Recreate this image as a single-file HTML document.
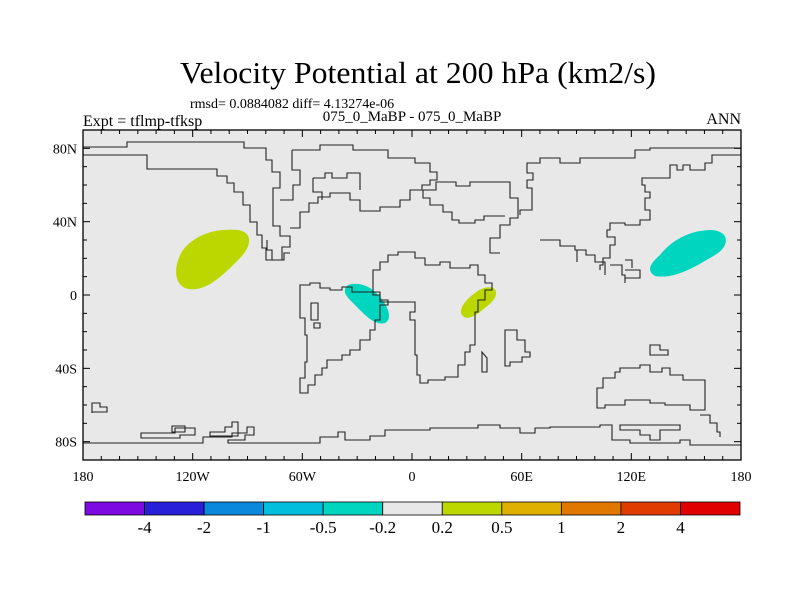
<!DOCTYPE html>
<html><head><meta charset="utf-8"><style>
body{margin:0;background:#fff;}
svg text{font-family:"Liberation Serif",serif;fill:#000;}
</style></head><body>
<svg id="chart" width="800" height="600" viewBox="0 0 800 600" xmlns="http://www.w3.org/2000/svg">
<rect width="800" height="600" fill="#fff"/>
<text x="418" y="83" font-size="31" text-anchor="middle" textLength="476" lengthAdjust="spacingAndGlyphs">Velocity Potential at 200 hPa (km2/s)</text>
<text x="190" y="108" font-size="14">rmsd= 0.0884082 diff= 4.13274e-06</text>
<text x="83" y="126" font-size="16">Expt = tflmp-tfksp</text>
<text x="412" y="121" font-size="15" text-anchor="middle">075_0_MaBP - 075_0_MaBP</text>
<text x="741" y="124" font-size="16" text-anchor="end">ANN</text>
<g id="plot">
<rect x="83" y="130" width="658" height="330" fill="#e8e8e8"/>
<g>
<path d="M185,288 C172,282 175,262 183,250 C195,235 215,228 238,230 C255,233 250,248 240,258 C225,273 205,295 185,288 Z" fill="#bcd700"/>
<path d="M655,276 C645,270 652,262 660,255 C672,240 690,230 712,230 C732,232 728,248 715,255 C698,265 675,280 655,276 Z" fill="#00d5c0"/>
<path d="M345,290 C345,282 360,282 370,288 C385,298 395,318 385,323 C375,326 365,315 355,305 C348,298 344,294 345,290 Z" fill="#00d5c0"/>
<path d="M462,315 C458,310 465,300 475,293 C483,286 495,285 496,292 C497,300 487,306 480,312 C472,318 465,320 462,315 Z" fill="#bcd700"/>
</g>
<g fill="none" stroke="#222" stroke-width="1.1">
<path d="M83,147 H127 V142 H244 V148 H266 V160 H272 V172 H280 V188 H273 V226 H280 V236 H290 V247 H282 V260 H272 V250 H267 V240"/>
<path d="M83,155 H147 V169 H217 V176 H227 V183 H234 V192 H243 V205 H250 V222 H257 V235 H262 V248 H266 V260 H284 V253 H290"/>
<path d="M292,150 V170 H300 V185 H293 V200 H280 M292,150 H320 V145 H353 V150 H388 V158 H415 V163 H430 V172 H437 V180 H430 V185 H422 V190 H410 V200 H400 V207 H380 V211 H360 V200 H350 V193 H330 V197 H318 V203 H309 V212 H300 V228 H290 M313,178 H325 V173 H332 V178 H347 V173 H360 V190 M313,178 V192 H322 V200"/>
<path d="M423,190 H436 V182 H456 V186 H470 V182 H510 V198 H518 V218 H510 V225 H500 V238 H490 V253 H500 M423,190 V198 H430 V205 H443 V212 H452 V220 H459 V223 H475 V220 H484 V216 H505"/>
<path d="M741,148 H650 V150 H635 V158 H580 V163 H560 V158 H540 V163 H527 V173 H533 V180 H527 V188 H532 V210 H520 V215 M741,155 H712 V163 H705 V170 H690 V165 H683 V170 H677 V165 H670 V178 H642 V185 H645 V192 H650 V198 H645 V210 H650 V220 H640 V225 H625 V223 H610 V230 H607 V237 H615 V245 H610 V258 H603 V265 H600 V270"/>
<path d="M540,240 H560 V246 H575 V250 H586 V255 H595 V262 H605 V275 M577,262 V250 M610,265 H622 V275 H625 V283 M625,270 H640 V278 H625 M625,260 H632 V268"/>
<path d="M373,270 H380 V262 H388 V255 H398 V252 H415 V258 H425 V265 H440 V262 H450 V268 H470 V265 H478 V275 H485 V283 H492 V290 H485 V300 H478 V312 H475 V345 H470 V352 H465 V365 H458 V377 H445 V380 H428 V383 H420 V375 H417 V355 H415 V320 H410 V312 H415 V302 H380 V295 H373 Z"/>
<path d="M482,352 V372 H487 V358 Z"/>
<path d="M505,345 V330 H517 V340 H525 V352 H530 V357 H522 V362 H510 V366 H505 Z"/>
<path d="M300,295 V285 H310 V283 H320 V288 H330 V290 H342 V287 H352 V292 H380 V300 H388 V305 H380 V320 H375 V330 H370 V340 H360 V350 H350 V355 H342 V360 H327 V368 H322 V375 H315 V385 H308 V393 H300 V378 H305 V362 H307 V335 H305 V318 H300 Z"/>
<path d="M311,303 V320 H318 V303 Z M314,323 V328 H320 V323 Z"/>
<path d="M597,400 V388 H603 V378 H615 V372 H620 V368 H640 V365 H650 V372 H662 V368 H670 V375 H683 V380 H705 V410 H690 V405 H665 V403 H650 V400 H625 V405 H605 V408 H597 Z"/>
<path d="M650,350 V345 H660 V350 H668 V355 H650 Z"/>
<path d="M700,415 H710 V423 H717 V432 H720 V437"/>
<path d="M83,443 H203 V437 H232 V433 H247 V427 H254 V435 H245 V440 H228 V443 H320 V437 H338 V432 H345 V440 H370 V436 H385 V430 H430 V428 H478 V425 H500 V428 H520 V433 H535 V428 H550 V427 H600 V425 H612 V440 H630 V443 H680 V440 H690 V445 H741"/>
<path d="M141,433 H175 V428 H195 V435 H180 V438 H141 Z M210,432 H225 V427 H232 V422 H238 V436 H210 Z M92,413 V403 H100 V407 H107 V412 H92 Z M172,426 V432 H185 V426 Z M620,430 V425 H680 V430 H660 V440 H650 V435 H640 V430 Z"/>
</g>
<rect x="83" y="130" width="658" height="330" fill="none" stroke="#000" stroke-width="1.3"/>
<g id="ticks" stroke="#000" stroke-width="1"></g>
<g id="xlabels"></g>
<g id="ylabels"></g>
</g>
<g id="colorbar"></g>
</svg>
<script>
const lonTicks = [-180, -120, -60, 0, 60, 120, 180];
const lonLabels = ["180", "120W", "60W", "0", "60E", "120E", "180"];
const latTicks = [80, 40, 0, -40, -80];
const latLabels = ["80N", "40N", "0", "40S", "80S"];
const levels = ["-4", "-2", "-1", "-0.5", "-0.2", "0.2", "0.5", "1", "2", "4"];
const colors = ["#7d0ae0","#2820d8","#0a88dc","#00bedc","#00d5c0","#e8e8e8","#bcd700","#e0b000","#e07800","#e03c00","#e00000"];
const NS = "http://www.w3.org/2000/svg";
const x0 = 83, x1 = 741, y0 = 130, y1 = 460;
const xs = lon => x0 + (lon + 180) / 360 * (x1 - x0);
const ys = lat => y0 + (90 - lat) / 180 * (y1 - y0);
function mk(tag, attrs, parent) { const e = document.createElementNS(NS, tag); for (const k in attrs) e.setAttribute(k, attrs[k]); parent.appendChild(e); return e; }
const tg = document.getElementById('ticks');
for (let lon = -170; lon < 180; lon += 10) {
  const big = lon % 60 === 0 ? 7 : 4;
  const t1 = mk('line', {x1: xs(lon), x2: xs(lon), y1: y1, y2: y1 - big}, tg);
  
  
  const t2 = mk('line', {x1: xs(lon), x2: xs(lon), y1: y0, y2: y0 + big}, tg);
  
  
}
for (let lat = -80; lat <= 80; lat += 10) {
  const big = lat % 40 === 0 ? 7 : 4;
  const t1 = mk('line', {x1: x0, x2: x0 + big, y1: ys(lat), y2: ys(lat)}, tg);
  
  
  const t2 = mk('line', {x1: x1, x2: x1 - big, y1: ys(lat), y2: ys(lat)}, tg);
  
  
}
const xl = document.getElementById('xlabels');
lonTicks.forEach((lon, i) => {
  const t = mk('text', {x: xs(lon), y: 481, 'font-size': 14, 'text-anchor': 'middle'}, xl);
  
  
  t.textContent = lonLabels[i];
});
const yl = document.getElementById('ylabels');
latTicks.forEach((lat, i) => {
  const t = mk('text', {x: 77, y: ys(lat) + 5, 'font-size': 14, 'text-anchor': 'end'}, yl);
  
  
  t.textContent = latLabels[i];
});
const cb = document.getElementById('colorbar');
const cx0 = 85, cx1 = 740, cy = 502, ch = 13, cw = (cx1 - cx0) / colors.length;
colors.forEach((c, i) => {
  const r = mk('rect', {x: cx0 + i * cw, y: cy, width: cw, height: ch, fill: c, stroke: '#000', 'stroke-width': 0.8}, cb);
  
  
});
levels.forEach((lv, i) => {
  const t = mk('text', {x: cx0 + (i + 1) * cw, y: 533, 'font-size': 17, 'text-anchor': 'middle'}, cb);
  
  
  t.textContent = lv;
});
</script>
</body></html>
